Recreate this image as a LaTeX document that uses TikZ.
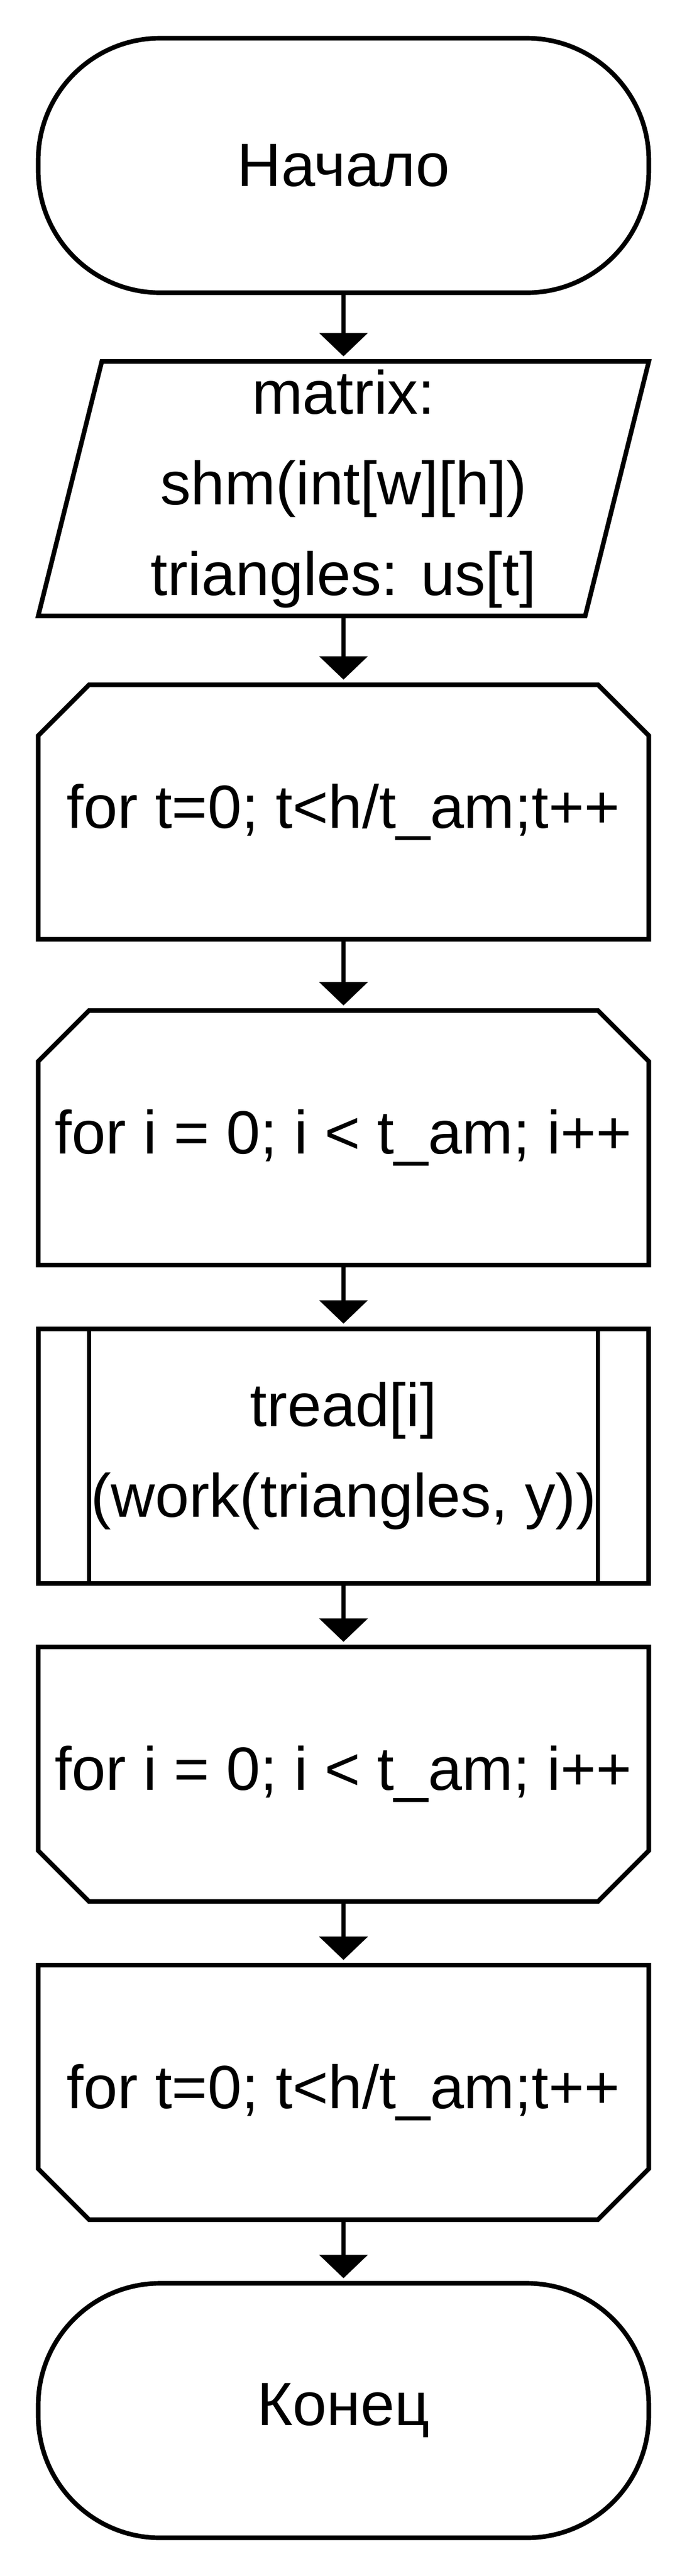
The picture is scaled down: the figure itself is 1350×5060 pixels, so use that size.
\documentclass[tikz,border=0pt]{standalone}
\usepackage{fontspec}
\setmainfont{Liberation Sans}
\usetikzlibrary{arrows.meta}
\tikzset{
  ln/.style={line width=0.9pt, draw=black},
  blk/.style={minimum width=120pt, minimum height=50pt, inner sep=0pt, outer sep=0pt,
              align=center, font=\fontsize{12pt}{17.8pt}\selectfont},
  term/.style={blk, ln, rounded corners=24pt},
  framebox/.style={blk, ln},
  shapebox/.style={blk},
  arr/.style={ln, -{Triangle[width=9.4pt,length=4.6pt]}, shorten >=1pt},
}
\begin{document}
\begin{tikzpicture}[x=0.1pt,y=-0.1pt]
\useasboundingbox (0,0) rectangle (1350,5060);

% nodes
\node[term]     (n1) at (675,325)  {Начало};
\node[shapebox] (n2) at (675,960)  {matrix:\\shm(int[w][h])\\triangles: us[t]};
\node[shapebox] (n3) at (675,1595) {for t=0; t<h/t\_am;t++};
\node[shapebox] (n4) at (675,2235) {for i = 0; i < t\_am; i++};
\node[framebox] (n5) at (675,2860) {tread[i]\\(work(triangles, y))};
\node[shapebox] (n6) at (675,3485) {for i = 0; i < t\_am; i++};
\node[shapebox] (n7) at (675,4110) {for t=0; t<h/t\_am;t++};
\node[term]     (n8) at (675,4735) {Конец};

% parallelogram (data)
\draw[ln] ([xshift=12.5pt]n2.north west) -- (n2.north east)
  -- ([xshift=-12.5pt]n2.south east) -- (n2.south west) -- cycle;

% loop begin shapes (top corners cut)
\foreach \n in {n3,n4}{
  \draw[ln] ([xshift=10pt]\n.north west) -- ([xshift=-10pt]\n.north east)
    -- ([yshift=-10pt]\n.north east) -- (\n.south east) -- (\n.south west)
    -- ([yshift=-10pt]\n.north west) -- cycle;
}

% loop end shapes (bottom corners cut)
\foreach \n in {n6,n7}{
  \draw[ln] (\n.north west) -- (\n.north east)
    -- ([yshift=10pt]\n.south east) -- ([xshift=-10pt]\n.south east)
    -- ([xshift=10pt]\n.south west) -- ([yshift=10pt]\n.south west) -- cycle;
}

% predefined process inner lines
\draw[ln] ([xshift=10pt]n5.north west) -- ([xshift=10pt]n5.south west);
\draw[ln] ([xshift=-10pt]n5.north east) -- ([xshift=-10pt]n5.south east);

% connectors
\draw[arr] (n1.south) -- (n2.north);
\draw[arr] (n2.south) -- (n3.north);
\draw[arr] (n3.south) -- (n4.north);
\draw[arr] (n4.south) -- (n5.north);
\draw[arr] (n5.south) -- (n6.north);
\draw[arr] (n6.south) -- (n7.north);
\draw[arr] (n7.south) -- (n8.north);
\end{tikzpicture}
\end{document}
